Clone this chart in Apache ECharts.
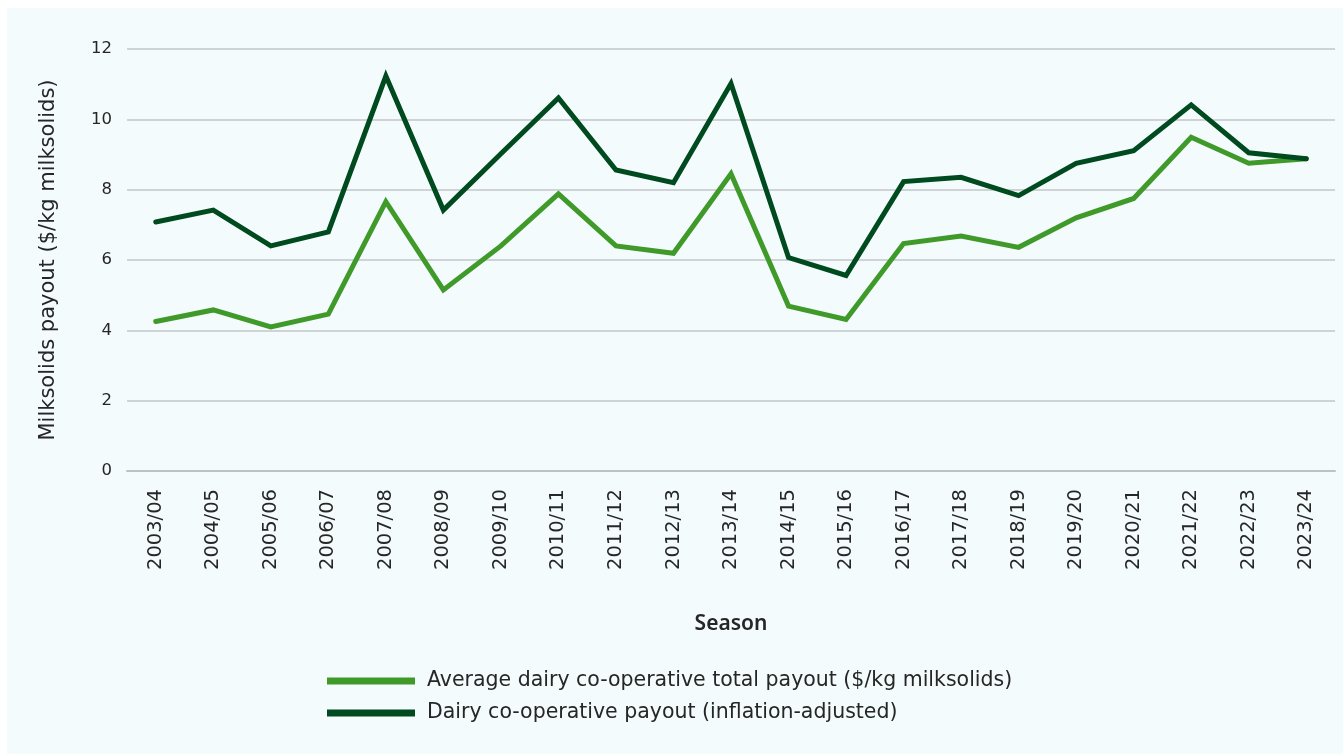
<!DOCTYPE html>
<html>
<head>
<meta charset="utf-8">
<title>Dairy co-operative payout</title>
<script src="https://cdn.jsdelivr.net/npm/echarts@6/dist/echarts.min.js"></script>
<style>
  html, body { margin: 0; padding: 0; background: #ffffff; }
  #chart { width: 1343px; height: 754px; }
</style>
</head>
<body>
<div id="chart"></div>
<script>
// Seasons on the category axis
const seasons = [
  '2003/04', '2004/05', '2005/06', '2006/07', '2007/08', '2008/09', '2009/10',
  '2010/11', '2011/12', '2012/13', '2013/14', '2014/15', '2015/16', '2016/17',
  '2017/18', '2018/19', '2019/20', '2020/21', '2021/22', '2022/23', '2023/24'
];

// Average dairy co-operative total payout ($/kg milksolids)
const averagePayout = [
  4.25, 4.58, 4.10, 4.46, 7.66, 5.15, 6.40, 7.88, 6.40, 6.19, 8.45,
  4.69, 4.31, 6.47, 6.68, 6.36, 7.20, 7.75, 9.49, 8.75, 8.88
];

// Same payout expressed in today's dollars
const inflationAdjusted = [
  7.08, 7.42, 6.40, 6.80, 11.23, 7.42, 9.02, 10.61, 8.56, 8.20, 11.02,
  6.07, 5.56, 8.23, 8.35, 7.83, 8.75, 9.11, 10.41, 9.05, 8.88
];

// Value axis ticks
const yMin = 0;
const yMax = 12;
const yStep = 2;

const seriesNames = [
  'Average dairy co-operative total payout ($/kg milksolids)',
  'Dairy co-operative payout (inflation-adjusted)'
];

const FONT = '"DejaVu Sans", "Noto Sans", sans-serif';
const TITLE_FONT = '"Noto Sans", "DejaVu Sans", sans-serif';
const TEXT = '#262626';
const LIGHT_GREEN = '#3f9a2a';
const DARK_GREEN = '#004a1f';

const chart = echarts.init(document.getElementById('chart'), null, { renderer: 'canvas' });

chart.setOption({
  animation: false,
  backgroundColor: 'transparent',
  graphic: [{
    type: 'rect',
    z: -10,
    silent: true,
    shape: { x: 7, y: 8, width: 1343 - 7, height: 754 - 8 },
    style: { fill: '#f4fbfd' }
  }],
  textStyle: { fontFamily: FONT, color: TEXT },
  grid: { left: 127, right: 8, top: 49, bottom: 283, containLabel: false },
  legend: {
    orient: 'vertical',
    left: 322,
    top: 665,
    itemWidth: 88,
    itemHeight: 7,
    itemGap: 10,
    icon: 'rect',
    textStyle: {
      fontFamily: FONT,
      fontSize: 20.5,
      color: TEXT,
      lineHeight: 22,
      padding: [0, 0, 0, 7]
    },
    data: seriesNames
  },
  xAxis: {
    type: 'category',
    data: seasons,
    boundaryGap: true,
    name: 'Season',
    nameLocation: 'middle',
    nameGap: 143,
    nameTextStyle: { fontFamily: TITLE_FONT, fontSize: 21, fontWeight: 600, color: TEXT },
    axisLine: { show: true, lineStyle: { color: '#bfc1c4', width: 2 } },
    axisTick: { show: false },
    axisLabel: {
      rotate: 90,
      margin: 18,
      fontFamily: FONT,
      fontSize: 19.5,
      color: TEXT,
      interval: 0
    }
  },
  yAxis: {
    type: 'value',
    min: yMin,
    max: yMax,
    interval: yStep,
    name: 'Milksolids payout ($/kg milksolids)',
    nameLocation: 'middle',
    nameGap: 68,
    nameRotate: 90,
    nameTextStyle: { fontFamily: FONT, fontSize: 21, color: TEXT },
    axisLine: { show: false },
    axisTick: { show: false },
    axisLabel: { margin: 15, fontFamily: FONT, fontSize: 16.5, color: TEXT },
    splitLine: { show: true, lineStyle: { color: '#c4c6c9', width: 1.5 } }
  },
  series: [
    {
      name: seriesNames[0],
      type: 'line',
      data: averagePayout,
      symbol: 'none',
      lineStyle: { color: LIGHT_GREEN, width: 5, cap: 'round', join: 'miter' },
      itemStyle: { color: LIGHT_GREEN },
      z: 2
    },
    {
      name: seriesNames[1],
      type: 'line',
      data: inflationAdjusted,
      symbol: 'none',
      lineStyle: { color: DARK_GREEN, width: 5, cap: 'round', join: 'miter' },
      itemStyle: { color: DARK_GREEN },
      z: 3
    }
  ]
});
</script>
</body>
</html>
